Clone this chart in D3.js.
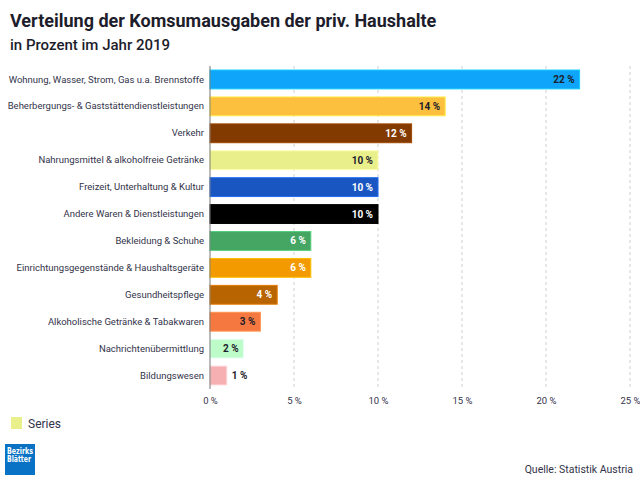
<!DOCTYPE html>
<html>
<head>
<meta charset="utf-8">
<script src="https://cdn.jsdelivr.net/npm/d3@7"></script>
<style>
  body { margin: 0; background: #fff; }
  svg { font-family: Roboto, "Noto Sans", sans-serif; display: block; }
</style>
</head>
<body>
<div id="chart"></div>
<script>
// Data
const categories = [
  "Wohnung, Wasser, Strom, Gas u.a. Brennstoffe",
  "Beherbergungs- & Gaststättendienstleistungen",
  "Verkehr",
  "Nahrungsmittel & alkoholfreie Getränke",
  "Freizeit, Unterhaltung & Kultur",
  "Andere Waren & Dienstleistungen",
  "Bekleidung & Schuhe",
  "Einrichtungsgegenstände & Haushaltsgeräte",
  "Gesundheitspflege",
  "Alkoholische Getränke & Tabakwaren",
  "Nachrichtenübermittlung",
  "Bildungswesen"
];
const values = [22, 14, 12, 10, 10, 10, 6, 6, 4, 3, 2, 1];
const xTicks = [0, 5, 10, 15, 20, 25];

// Styling
const barColors = ["#0ea5fa", "#fdbf3e", "#833a00", "#e9ef8b", "#1956c2", "#000000",
                   "#45a663", "#f29a00", "#b86400", "#f47840", "#bdfcc9", "#f7b0b2"];
const labelColors = ["#1d1d2b", "#1d1d2b", "#fff", "#1d1d2b", "#fff", "#fff",
                     "#fff", "#fff", "#fff", "#1d1d2b", "#1d1d2b", "#1d1d2b"];
const textColor = "#33334a";

const W = 640, H = 480;
const plot = { left: 210, right: 630, top: 66, bottom: 389 };

const svg = d3.select("#chart").append("svg")
  .attr("width", W)
  .attr("height", H);

// Title block
svg.append("text")
  .attr("x", 10).attr("y", 27)
  .style("font-size", "18px").style("font-weight", "bold")
  .style("fill", "#1d1d2b")
  .text("Verteilung der Komsumausgaben der priv. Haushalte");

svg.append("text")
  .attr("x", 10).attr("y", 50)
  .style("font-size", "15px").style("font-weight", "500")
  .style("fill", "#1d1d2b")
  .text("in Prozent im Jahr 2019");

// Scales
const x = d3.scaleLinear().domain([0, 25]).range([plot.left, plot.right]);
const y = d3.scaleBand()
  .domain(categories)
  .range([plot.top, plot.bottom])
  .paddingInner(0.3)
  .paddingOuter(0.15);

// Dashed gridlines
svg.append("g")
  .selectAll("line")
  .data(xTicks.filter(d => d > 0))
  .join("line")
  .attr("x1", d => x(d)).attr("x2", d => x(d))
  .attr("y1", plot.top).attr("y2", plot.bottom)
  .attr("stroke", "#d0d0d0")
  .attr("stroke-dasharray", "3,3");

// X axis tick labels
const xAxis = svg.append("g")
  .attr("transform", `translate(0, ${plot.bottom})`)
  .call(d3.axisBottom(x).tickValues(xTicks).tickSize(0).tickPadding(8).tickFormat(d => `${d} %`));
xAxis.select(".domain").remove();
xAxis.selectAll("text")
  .style("font-family", "Roboto, sans-serif")
  .style("font-size", "9.5px")
  .style("fill", textColor);

// Bars
svg.append("g")
  .selectAll("rect")
  .data(values)
  .join("rect")
  .attr("x", x(0))
  .attr("y", (d, i) => y(categories[i]))
  .attr("width", d => x(d) - x(0))
  .attr("height", y.bandwidth())
  .attr("fill", (d, i) => barColors[i])
  .attr("stroke", (d, i) => d3.color(barColors[i]).brighter(0.6))
  .attr("stroke-width", 1);

// Value labels
svg.append("g")
  .selectAll("text")
  .data(values)
  .join("text")
  .attr("x", d => (x(d) - x(0) < 25 ? x(d) + 5 : x(d) - 5))
  .attr("y", (d, i) => y(categories[i]) + y.bandwidth() / 2)
  .attr("dy", "0.35em")
  .attr("text-anchor", d => (x(d) - x(0) < 25 ? "start" : "end"))
  .style("font-size", "10px")
  .style("font-weight", "bold")
  .style("fill", (d, i) => (x(d) - x(0) < 25 ? "#1d1d2b" : labelColors[i]))
  .text(d => `${d} %`);

// Y axis (category labels)
const yAxis = svg.append("g")
  .attr("transform", `translate(${plot.left}, 0)`)
  .call(d3.axisLeft(y).tickSize(0).tickPadding(6));
yAxis.select(".domain")
  .attr("stroke", "#777")
  .attr("d", `M0,${plot.top}V${plot.bottom}`);
yAxis.selectAll("text")
  .style("font-family", "Roboto, sans-serif")
  .style("font-size", "9.5px")
  .style("fill", textColor);

// Legend
svg.append("rect")
  .attr("x", 11).attr("y", 417)
  .attr("width", 11).attr("height", 12)
  .attr("fill", barColors[3]);
svg.append("text")
  .attr("x", 28).attr("y", 427.5)
  .style("font-size", "12px")
  .style("fill", textColor)
  .text("Series");

// Logo
svg.append("rect")
  .attr("x", 5).attr("y", 444)
  .attr("width", 30).attr("height", 31)
  .attr("fill", "#0a72c4");
[["Bezirks", 453.5, 26], ["Blätter", 462, 24]].forEach(([t, ty, len]) => {
  svg.append("text")
    .attr("x", 7).attr("y", ty)
    .attr("textLength", len)
    .attr("lengthAdjust", "spacingAndGlyphs")
    .style("font-family", "'Liberation Sans Narrow', 'DejaVu Sans Condensed', sans-serif")
    .style("font-size", "8.5px").style("font-weight", "bold")
    .style("fill", "#fff")
    .text(t);
});

// Source
svg.append("text")
  .attr("x", 633).attr("y", 472.5)
  .attr("text-anchor", "end")
  .style("font-size", "10.5px")
  .style("fill", textColor)
  .text("Quelle: Statistik Austria");
</script>
</body>
</html>
